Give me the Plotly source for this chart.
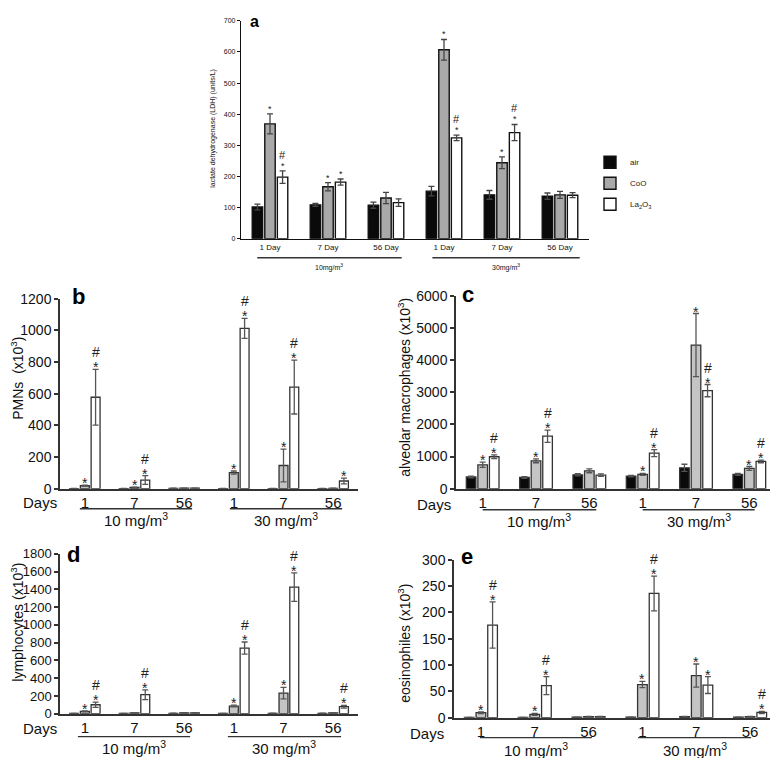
import plotly.graph_objects as go

W, H = 778, 758
FONT = "Liberation Sans, Arial, sans-serif"
# measured mapping between figure pixels and the photographed page
OX = 8
OY, SY = 15.2, 0.979

groups = ["10-1", "10-7", "10-56", "30-1", "30-7", "30-56"]
day_labels = ["1", "7", "56", "1", "7", "56"]
day_labels_a = ["1 Day", "7 Day", "56 Day", "1 Day", "7 Day", "56 Day"]
series_names = ["air", "CoO", "La<sub>2</sub>O<sub>3</sub>"]
dose_labels_a = ["10mg/m<sup>3</sup>", "30mg/m<sup>3</sup>"]
dose_labels = ["10 mg/m<sup>3</sup>", "30 mg/m<sup>3</sup>"]

# ---- panel a: LDH (units/L)
ldh_air = [102, 109, 108, 153, 141, 137]
ldh_air_err = [9, 5, 10, 15, 14, 10]
ldh_coo = [369, 167, 131, 607, 244, 141]
ldh_coo_err = [32, 13, 18, 33, 19, 11]
ldh_la = [198, 182, 116, 324, 341, 140]
ldh_la_err = [20, 10, 12, 9, 26, 8]
ldh_sig_coo = ["*", "*", "", "*", "*", ""]
ldh_sig_la = ["#*", "*", "", "#*", "#*", ""]

# ---- panel b: PMNs (x10^3)
pmn_air = [1, 1, 2, 1, 1, 1]
pmn_air_err = [1, 1, 1, 1, 1, 1]
pmn_coo = [19, 8, 3, 102, 147, 2]
pmn_coo_err = [3, 2, 1, 10, 103, 1]
pmn_la = [578, 55, 3, 1013, 642, 49]
pmn_la_err = [176, 28, 1, 63, 170, 18]
pmn_sig_coo = ["*", "*", "", "*", "*", ""]
pmn_sig_la = ["#*", "#*", "", "#*", "#*", "*"]

# ---- panel c: alveolar macrophages (x10^3)
am_air = [365, 352, 434, 393, 652, 445]
am_air_err = [30, 25, 35, 25, 110, 30]
am_coo = [745, 869, 558, 445, 4468, 631]
am_coo_err = [80, 60, 60, 30, 980, 60]
am_la = [995, 1634, 424, 1107, 3051, 848]
am_la_err = [60, 190, 40, 110, 190, 40]
am_sig_coo = ["*", "*", "", "*", "*", "*"]
am_sig_la = ["#*", "#*", "", "#*", "#*", "#*"]

# ---- panel d: lymphocytes (x10^3)
ly_air = [3, 3, 5, 3, 5, 5]
ly_air_err = [1, 1, 1, 1, 1, 1]
ly_coo = [26, 8, 10, 86, 232, 8]
ly_coo_err = [5, 2, 2, 10, 65, 2]
ly_la = [101, 214, 10, 739, 1425, 79]
ly_la_err = [30, 55, 2, 68, 160, 15]
ly_sig_coo = ["*", "", "", "*", "*", ""]
ly_sig_la = ["#*", "#*", "", "#*", "#*", "#*"]

# ---- panel e: eosinophiles (x10^3)
eo_air = [0.5, 0.5, 1, 1, 2, 1]
eo_air_err = [0.3, 0.3, 0.3, 0.3, 0.5, 0.3]
eo_coo = [9.5, 6.3, 2, 63, 80, 2]
eo_coo_err = [1.5, 2, 0.5, 6, 22, 0.5]
eo_la = [176, 61, 2, 236, 62, 10]
eo_la_err = [44, 17, 0.5, 33, 16, 2]
eo_sig_coo = ["*", "*", "", "*", "*", ""]
eo_sig_la = ["#*", "#*", "", "#*", "*", "#*"]

BARGAP = 0.35
BARGROUPGAP = 0.17


def px(x):
    return (x - OX) / W


def py(y):
    return 1 - ((y - OY) / SY) / H


panels = [
    dict(n=1, letter="a", xd=(241, 589), yd=(238, 20), ymax=700, dtick=100,
         data=[(ldh_air, ldh_air_err), (ldh_coo, ldh_coo_err), (ldh_la, ldh_la_err)],
         sig=[None, ldh_sig_coo, ldh_sig_la], ticktext=day_labels_a,
         ytitle="lactate dehydrogenase (LDH) (units/L)", ytitle_pos=(213, 128), ytitle_size=7,
         letter_pos=(255, 21), letter_size=16, ytick_size=7, xtick_size=8,
         linecolor="#111", linewidth=1.3, gray="#a9a9a9", barline="#111", barlw=1.4,
         errc="#444", star=9, hashf=11, star_shift=5, hash_shift=16,
         days=None, under_y=257, under=[(-0.22, 2.27), (2.8, 5.34)], dose_y=267,
         dose_labels=dose_labels_a, dose_size=7, legend=True),
    dict(n=2, letter="b", xd=(60, 358), yd=(488, 298), ymax=1200, dtick=200,
         data=[(pmn_air, pmn_air_err), (pmn_coo, pmn_coo_err), (pmn_la, pmn_la_err)],
         sig=[None, pmn_sig_coo, pmn_sig_la], ticktext=day_labels,
         ytitle="PMNs  (x10<sup>3</sup>)", ytitle_pos=(17, 378), ytitle_size=14,
         letter_pos=(78, 296), letter_size=22, ytick_size=14, xtick_size=15,
         linecolor="#333", linewidth=1.5, gray="#c4c4c4", barline="#333", barlw=1.3,
         errc="#555", star=14, hashf=14, star_shift=2, hash_shift=17,
         days=(40, 502), under_y=508, under=[(-0.1, 2.16), (2.92, 5.18)], dose_y=519,
         dose_labels=dose_labels, dose_size=15, legend=False),
    dict(n=3, letter="c", xd=(456, 776), yd=(488, 295), ymax=6000, dtick=1000,
         data=[(am_air, am_air_err), (am_coo, am_coo_err), (am_la, am_la_err)],
         sig=[None, am_sig_coo, am_sig_la], ticktext=day_labels,
         ytitle="alveolar macrophages (x10<sup>3</sup>)", ytitle_pos=(404, 387), ytitle_size=14,
         letter_pos=(468, 294), letter_size=22, ytick_size=14, xtick_size=15,
         linecolor="#333", linewidth=1.5, gray="#c4c4c4", barline="#333", barlw=1.3,
         errc="#555", star=14, hashf=14, star_shift=2, hash_shift=17,
         days=(434, 504), under_y=509, under=[(0.0, 2.13), (3.0, 5.1)], dose_y=520,
         dose_labels=dose_labels, dose_size=15, legend=False),
    dict(n=4, letter="d", xd=(60, 358), yd=(713, 553), ymax=1800, dtick=200,
         data=[(ly_air, ly_air_err), (ly_coo, ly_coo_err), (ly_la, ly_la_err)],
         sig=[None, ly_sig_coo, ly_sig_la], ticktext=day_labels,
         ytitle="lymphocytes (x10<sup>3</sup>)", ytitle_pos=(17, 622), ytitle_size=14,
         letter_pos=(73, 554), letter_size=22, ytick_size=13, xtick_size=15,
         linecolor="#333", linewidth=1.5, gray="#c4c4c4", barline="#333", barlw=1.3,
         errc="#555", star=14, hashf=14, star_shift=2, hash_shift=17,
         days=(40, 728), under_y=736, under=[(-0.14, 2.12), (2.88, 5.16)], dose_y=747,
         dose_labels=dose_labels, dose_size=15, legend=False),
    dict(n=5, letter="e", xd=(454, 777), yd=(717, 559), ymax=300, dtick=50,
         data=[(eo_air, eo_air_err), (eo_coo, eo_coo_err), (eo_la, eo_la_err)],
         sig=[None, eo_sig_coo, eo_sig_la], ticktext=day_labels,
         ytitle="eosinophiles (x10<sup>3</sup>)", ytitle_pos=(404, 643), ytitle_size=14,
         letter_pos=(467, 556), letter_size=22, ytick_size=14, xtick_size=15,
         linecolor="#333", linewidth=1.5, gray="#c4c4c4", barline="#333", barlw=1.3,
         errc="#555", star=14, hashf=14, star_shift=2, hash_shift=17,
         days=(427, 733), under_y=737, under=[(-0.02, 2.06), (2.92, 5.02)], dose_y=749,
         dose_labels=dose_labels, dose_size=15, legend=False),
]

fig = go.Figure()
annotations = []
shapes = []
layout_axes = {}

for p in panels:
    n = p["n"]
    xs = "" if n == 1 else str(n)
    fills = ["#0a0a0a", p["gray"], "#ffffff"]
    for j, (vals, errs) in enumerate(p["data"]):
        fig.add_trace(go.Bar(
            x=groups, y=vals, name=series_names[j],
            xaxis="x" + xs, yaxis="y" + xs,
            marker=dict(color=fills[j], line=dict(color=p["barline"], width=p["barlw"])),
            error_y=dict(type="data", array=errs, visible=True, color=p["errc"],
                         thickness=1.3, width=3),
            showlegend=p["legend"], legendgroup=f"g{j}",
        ))
        sigs = p["sig"][j]
        if sigs:
            for i, s in enumerate(sigs):
                if not s:
                    continue
                xi = i + (j - 1) * (1 - BARGAP) / 3
                top = vals[i] + errs[i]
                if "*" in s:
                    annotations.append(dict(x=xi, y=top, xref="x" + xs, yref="y" + xs,
                                            text="*", showarrow=False, yanchor="middle",
                                            yshift=p["star_shift"],
                                            font=dict(size=p["star"], color="#222", family=FONT)))
                if "#" in s:
                    annotations.append(dict(x=xi, y=top, xref="x" + xs, yref="y" + xs,
                                            text="#", showarrow=False, yanchor="middle",
                                            yshift=p["hash_shift"],
                                            font=dict(size=p["hashf"], color="#222", family=FONT)))

    layout_axes["xaxis" + xs] = dict(
        domain=[px(p["xd"][0]), px(p["xd"][1])], anchor="y" + xs, type="category",
        range=[-0.5, 5.5], tickmode="array", tickvals=groups, ticktext=p["ticktext"],
        showline=True, linecolor=p["linecolor"], linewidth=p["linewidth"], ticks="",
        showgrid=False, zeroline=False,
        tickfont=dict(size=p["xtick_size"], color="#111", family=FONT))
    layout_axes["yaxis" + xs] = dict(
        domain=[py(p["yd"][0]), py(p["yd"][1])], anchor="x" + xs, range=[0, p["ymax"]],
        dtick=p["dtick"], tick0=0, showline=True, linecolor=p["linecolor"],
        linewidth=p["linewidth"], ticks="outside", ticklen=4 if n > 1 else 3,
        tickcolor=p["linecolor"], tickwidth=p["linewidth"],
        showgrid=False, zeroline=False,
        tickfont=dict(size=p["ytick_size"], color="#111", family=FONT))

    # y title
    annotations.append(dict(x=px(p["ytitle_pos"][0]), y=py(p["ytitle_pos"][1]),
                            xref="paper", yref="paper", text=p["ytitle"], textangle=-90,
                            showarrow=False, xanchor="center", yanchor="middle",
                            font=dict(size=p["ytitle_size"], color="#111", family=FONT)))
    # panel letter
    annotations.append(dict(x=px(p["letter_pos"][0]), y=py(p["letter_pos"][1]),
                            xref="paper", yref="paper", text="<b>" + p["letter"] + "</b>",
                            showarrow=False, xanchor="center", yanchor="middle",
                            font=dict(size=p["letter_size"], color="#000", family=FONT)))
    if p["days"]:
        annotations.append(dict(x=px(p["days"][0]), y=py(p["days"][1]),
                                xref="paper", yref="paper", text="Days", showarrow=False,
                                xanchor="center", yanchor="middle",
                                font=dict(size=15, color="#111", family=FONT)))
    for k, (x0, x1) in enumerate(p["under"]):
        shapes.append(dict(type="line", xref="x" + xs, yref="paper", x0=x0, x1=x1,
                           y0=py(p["under_y"]), y1=py(p["under_y"]),
                           line=dict(color="#333", width=1.3)))
        annotations.append(dict(x=(x0 + x1) / 2, y=py(p["dose_y"]), xref="x" + xs,
                                yref="paper", text=p["dose_labels"][k], showarrow=False,
                                xanchor="center", yanchor="middle",
                                font=dict(size=p["dose_size"], color="#111", family=FONT)))

fig.update_layout(
    width=W, height=H, margin=dict(l=0, r=0, t=0, b=0),
    paper_bgcolor="white", plot_bgcolor="white",
    barmode="group", bargap=BARGAP, bargroupgap=BARGROUPGAP,
    font=dict(family=FONT, color="#111"),
    showlegend=True,
    legend=dict(x=px(590), y=py(147), xanchor="left", yanchor="top",
                font=dict(size=8, family=FONT, color="#222"),
                tracegroupgap=2, bgcolor="rgba(0,0,0,0)"),
    annotations=annotations, shapes=shapes,
    **layout_axes,
)

fig.write_html("out.html")
